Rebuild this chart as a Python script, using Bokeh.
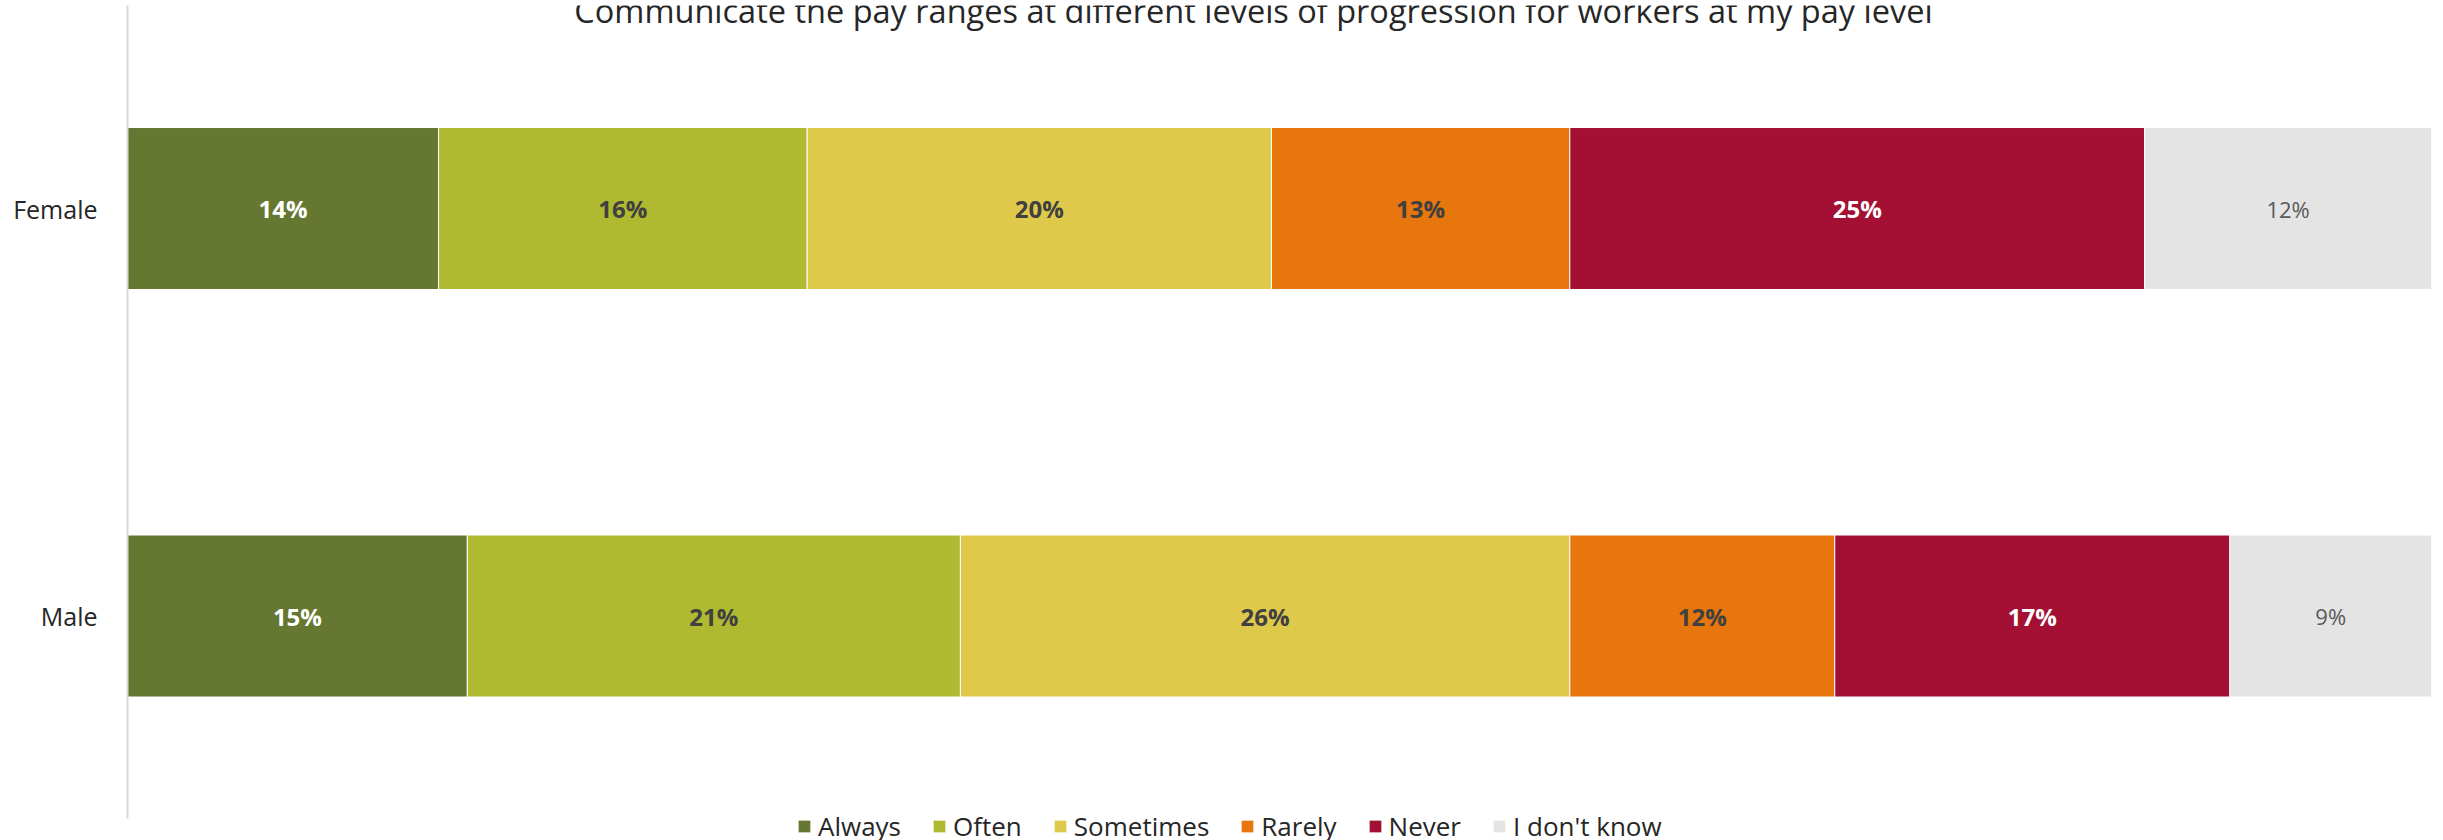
from bokeh.plotting import figure
from bokeh.models import ColumnDataSource, Range1d, Label, Legend, LegendItem, FixedTicker
from bokeh.embed import file_html
from bokeh.resources import INLINE
from bokeh.core.properties import value

title_text = "Communicate the pay ranges at different levels of progression for workers at my pay level"
categories = ["Female", "Male"]
series = ["Always", "Often", "Sometimes", "Rarely", "Never", "I don't know"]
keys = ["always", "often", "sometimes", "rarely", "never", "dontknow"]
female = [13.5, 16.0, 20.15, 12.95, 24.95, 12.45]
male = [14.75, 21.4, 26.45, 11.5, 17.15, 8.75]
colors = ["#657731", "#B0BA30", "#DFC94B", "#E7760D", "#A31034", "#E4E4E4"]
label_colors = ["#FFFFFF", "#404040", "#404040", "#404040", "#FFFFFF", "#595959"]

FONT = "Open Sans"

# categories top-to-bottom: first category gets the highest position
n = len(categories)
ypos = [n - 1 - i for i in range(n)]

data = {"cat": categories, "y": ypos}
for i, k in enumerate(keys):
    data[k] = [female[i], male[i]]
src = ColumnDataSource(data)

p = figure(width=2443, height=840, output_backend="svg", toolbar_location=None,
           y_range=Range1d(-0.5509, n - 1 + 0.4982),
           x_range=Range1d(0, 100), x_axis_location=None,
           min_border_left=127, min_border_right=12, min_border_top=5, min_border_bottom=0)
p.outline_line_color = None
p.grid.visible = False
p.background_fill_color = "white"
p.border_fill_color = "white"

renderers = p.hbar_stack(keys, y="y", height=0.3975, color=colors, source=src,
                         line_color="#FFFFFF", line_width=1)

# data labels
vals = [female, male]
for i, k in enumerate(keys):
    xs, ys, txt = [], [], []
    for yy, row in zip(ypos, vals):
        before = sum(row[:i])
        xs.append(before + row[i] / 2)
        ys.append(yy)
        txt.append(f"{int(row[i] + 0.5)}%")
    last = (i == len(keys) - 1)
    p.text(x=xs, y=ys, text=txt, text_align="center", text_baseline="middle",
           text_color=label_colors[i], text_font=value(FONT),
           text_font_size="22px" if last else "24px",
           text_font_style="normal" if last else "bold")

yax = p.yaxis[0]
yax.ticker = FixedTicker(ticks=ypos)
yax.major_label_overrides = {yy: c for yy, c in zip(ypos, categories)}
yax.bounds = (-0.4969, n - 1 + 0.4982)
yax.axis_line_color = "#D9D9D9"
yax.axis_line_width = 2
yax.major_tick_line_color = None
yax.minor_tick_line_color = None
yax.major_label_text_font = FONT
yax.major_label_text_font_size = "25px"
yax.major_label_text_color = "#262626"
yax.major_label_standoff = 24

title = Label(x=48.87, y=n - 1 + 0.4982, text=title_text, text_align="center",
              text_baseline="alphabetic", y_offset=-5, text_font=FONT,
              text_font_size="32.5px", text_color="#262626")
p.add_layout(title)

legend = Legend(items=[LegendItem(label=s, renderers=[r]) for s, r in zip(series, renderers)],
                orientation="horizontal", location=(669, -4), padding=0, margin=0,
                spacing=30, label_standoff=6, glyph_width=16, glyph_height=16,
                label_text_font=FONT, label_text_font_size="26px", label_text_color="#262626",
                background_fill_alpha=0, border_line_color=None)
p.add_layout(legend, "center")

open("out.html", "w").write(file_html(p, INLINE))
